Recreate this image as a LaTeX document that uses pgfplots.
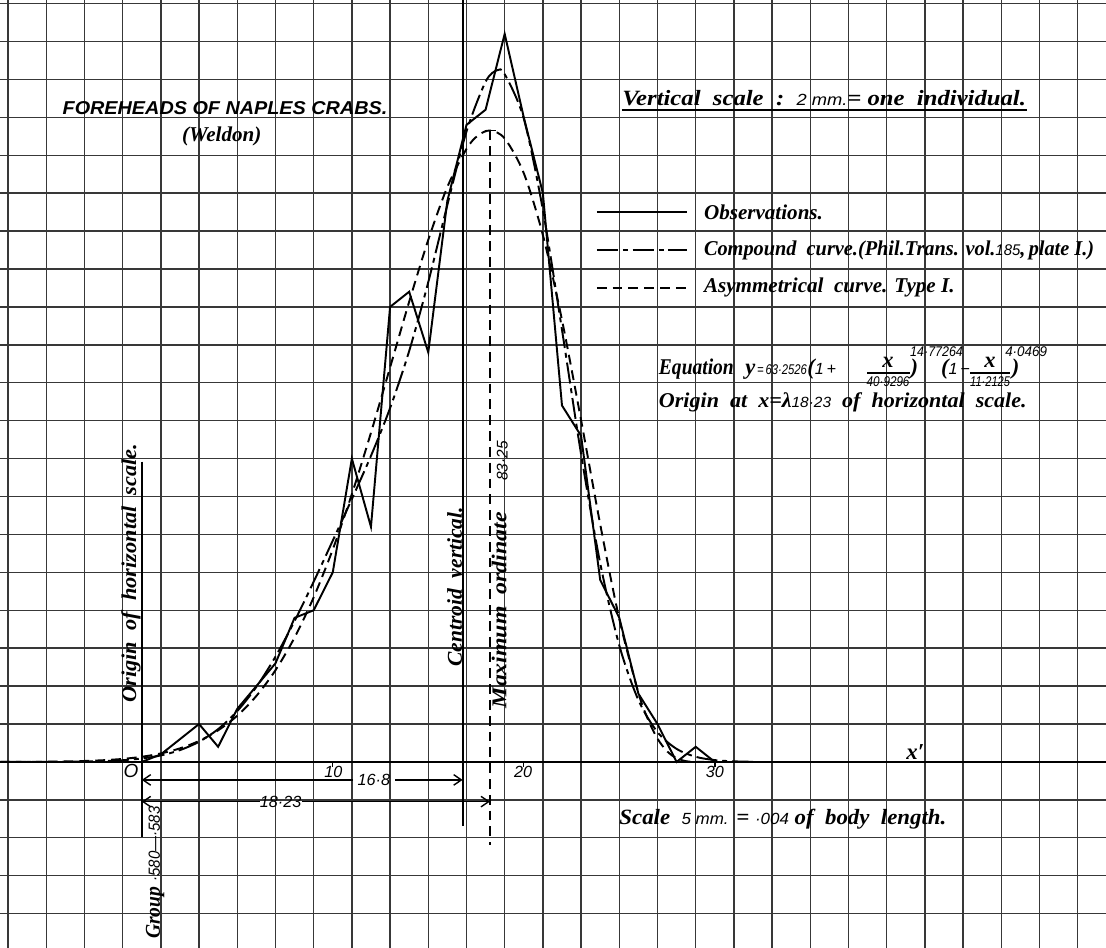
\documentclass[border=0pt]{standalone}
\usepackage{fontspec}
\setmainfont{Liberation Serif}
\newfontfamily\sansf{Liberation Sans}
\usepackage{graphicx}
\usepackage{pgfplots}
\pgfplotsset{compat=1.18}
\usepackage{pgfplotstable}
\usetikzlibrary{arrows.meta}

\newcommand\fs[1]{\fontsize{#1}{#1}\selectfont}
\newcommand\bi{\bfseries\itshape}
\newcommand\si[1][4.4]{\sansf\itshape\mdseries\fontsize{#1}{#1}\selectfont}
\newcommand\fitw[2]{\resizebox{#1}{\height}{#2}}

\tikzset{
  obsline/.style={black,line width=0.55pt},
  cmpline/.style={black,line width=0.55pt,dash pattern=on 6pt off 1.4pt on 1.4pt off 1.4pt},
  asyline/.style={black,line width=0.55pt,dash pattern=on 2.8pt off 1.7pt},
  barb/.style={line width=0.4pt,-{Straight Barb[length=2.2pt,width=3pt]}},
  lab/.style={inner sep=0}
}

\begin{document}
% Weldon's 1000 Naples crabs, groups of .004 (group 1 = .580-.583)
\pgfplotstableread{
x y
0 0
1 1
2 3
3 5
4 2
5 7
6 10
7 13
8 19
9 20
10 25
11 40
12 31
13 60
14 62
15 54
16 74
17 84
18 86
19 96
20 85
21 75
22 47
23 43
24 24
25 19
26 9
27 5
28 0
29 2
30 0
}\obs

% asymmetrical curve, type I
\pgfplotstableread{
x y
-7.4 0.01
-6 0.02
-5 0.03
-4 0.07
-3 0.13
-2 0.23
-1 0.40
0 0.68
1 1.12
2 1.79
3 2.77
4 4.17
5 6.10
6 8.70
7 12.09
8 16.40
9 21.70
10 28.02
11 35.31
12 43.41
13 52.01
14 60.68
15 68.84
16 75.82
17 80.83
17.6 82.6
18.23 83.25
19 82.21
20 77.63
21 69.47
22 58.27
23 45.06
24 31.34
25 18.85
26 9.12
26.5 5.62
27 3.07
27.5 1.41
28 0.49
28.5 0.10
29 0.01
29.44 0
}\typeone

% compound curve (two normal components)
\pgfplotstableread{
x y
-7.4 0
-5 0.01
-4 0.02
-3 0.05
-2 0.11
-1 0.23
0 0.46
1 0.86
2 1.56
3 2.66
4 4.33
5 6.71
6 9.89
7 13.88
8 18.58
9 23.76
10 29.18
11 34.67
12 40.36
13 46.66
14 54.18
15 63.27
16 73.46
17 83.12
18 89.69
18.6 91.2
19 90.69
20 84.83
21 72.79
22 56.98
23 40.57
24 26.21
25 15.36
26 8.16
27 3.93
28 1.72
29 0.68
30 0.24
31 0.08
32 0.02
}\compound

\begin{tikzpicture}
\begin{axis}[
  width=11.06cm,height=9.48cm,scale only axis,
  xmin=-7.42,xmax=50.48,ymin=-24.53,ymax=100.47,
  xtick={-7,-5,...,49},ytick={-20,-15,...,100},
  xticklabels={},yticklabels={},
  major tick length=0pt,
  axis line style={draw=none},
  grid=major,
  major grid style={line width=0.4pt,black!78},
  clip=true]

% x axis
\draw[line width=0.6pt] (axis cs:-7.42,0) -- (axis cs:50.48,0);
\draw[line width=0.4pt] (axis cs:10,0) -- (axis cs:10,-0.6);
\draw[line width=0.4pt] (axis cs:20,0) -- (axis cs:20,-0.6);
\draw[line width=0.4pt] (axis cs:30,0) -- (axis cs:30,-0.6);

\addplot[obsline,mark=none] table {\obs};
\addplot[cmpline,mark=none,smooth] table {\compound};
\addplot[asyline,mark=none,smooth] table {\typeone};

% verticals
\draw[line width=0.5pt] (axis cs:0,39.6) -- (axis cs:0,-9.9);
\draw[line width=0.5pt] (axis cs:16.8,100.47) -- (axis cs:16.8,-8.5);
\draw[asyline] (axis cs:18.23,83.25) -- (axis cs:18.23,-11);
\draw[line width=0.5pt] (axis cs:17.95,83.25) -- (axis cs:18.55,83.25);

% distances
\draw[barb] (axis cs:11.07,-2.37) -- (axis cs:0,-2.37);
\draw[barb] (axis cs:13.26,-2.37) -- (axis cs:16.8,-2.37);
\draw[barb] (axis cs:6.19,-5.23) -- (axis cs:0,-5.23);
\draw[barb] (axis cs:8.38,-5.23) -- (axis cs:18.23,-5.23);
\node[lab] at (axis cs:12.15,-2.37) {\si[4.6]16·8};
\node[lab] at (axis cs:7.27,-5.23) {\si[4.6]18·23};

% axis numbers
\node[lab] at (axis cs:-0.56,-1.25) {\si[5.4]O};
\node[lab] at (axis cs:10.03,-1.3) {\si[4.6]10};
\node[lab] at (axis cs:19.97,-1.3) {\si[4.6]20};
\node[lab] at (axis cs:30.0,-1.3) {\si[4.6]30};
\node[lab] at (axis cs:40.5,1.3) {\bi\fs{6.5}x′};

% titles
\node[lab] at (axis cs:4.36,86.2)
  {\fitw{92.4pt}{\sansf\bfseries\itshape\fs{5.3}FOREHEADS OF NAPLES CRABS.}};
\node[lab] at (axis cs:4.19,82.5) {\bi\fs{6}(Weldon)};
\node[lab,anchor=base west] at (axis cs:25.13,86.55)
  {\fitw{114.8pt}{\bi\fs{6.2}Vertical\ \ scale\ \ :\ \ {\si[4.6]2 mm.}= one\ \ individual.}};
\draw[line width=0.45pt] (axis cs:25.13,85.95) -- (axis cs:46.34,85.95);

% legend
\draw[obsline] (axis cs:23.82,72.5) -- (axis cs:28.53,72.5);
\draw[cmpline] (axis cs:23.82,67.5) -- (axis cs:28.53,67.5);
\draw[asyline] (axis cs:23.82,62.5) -- (axis cs:28.53,62.5);
\node[lab,anchor=west] at (axis cs:29.4,72.5) {\bi\fs{6}Observations.};
\node[lab,anchor=west] at (axis cs:29.4,67.5)
  {\fitw{111pt}{\bi\fs{6}Compound\ \ curve.(Phil.Trans. vol.{\si[4.4]185},\,plate I.)}};
\node[lab,anchor=west] at (axis cs:29.4,62.5) {\bi\fs{6}Asymmetrical\ \ curve. Type I.};

% equation, set piece by piece
\node[lab,anchor=base west] at (axis cs:27.04,51.03) {\fitw{21.3pt}{\bi\fs{6.4}Equation}};
\node[lab,anchor=base] at (axis cs:31.86,51.03) {\bi\fs{6.4}y};
\node[lab,anchor=base] at (axis cs:33.52,51.03) {\fitw{14.2pt}{\si[4]=\,63·2526}};
\node[lab,anchor=base] at (axis cs:35.6,51.03) {{\bi\fs{6.4}(}{\si[4.6]1\,+}};
\node[lab] at (axis cs:39.07,52.7) {\bi\fs{6.4}x};
\draw[line width=0.4pt] (axis cs:37.97,51.3) -- (axis cs:40.23,51.3);
\node[lab] at (axis cs:39.07,50.2) {\fitw{12.2pt}{\si[4]40·9296}};
\node[lab,anchor=base] at (axis cs:40.45,51.03) {\bi\fs{6.4})};
\node[lab] at (axis cs:41.61,54.06) {\fitw{15pt}{\si[4]14·77264}};
\node[lab,anchor=base] at (axis cs:42.6,51.03) {{\bi\fs{6.4}(}{\si[4.6]1\,−}};
\node[lab] at (axis cs:44.41,52.7) {\bi\fs{6.4}x};
\draw[line width=0.4pt] (axis cs:43.37,51.3) -- (axis cs:45.46,51.3);
\node[lab] at (axis cs:44.41,50.2) {\fitw{11.3pt}{\si[4]11·2125}};
\node[lab,anchor=base] at (axis cs:45.75,51.03) {\bi\fs{6.4})};
\node[lab] at (axis cs:46.3,54.06) {\fitw{11.9pt}{\si[4]4·0469}};

\node[lab,anchor=base west] at (axis cs:27.04,46.8)
  {\fitw{104.6pt}{\bi\fs{6}Origin\ \ at\ \ x=λ{\si[4.2]18·23}\ \ of\ \ horizontal\ \ scale.}};
\node[lab,anchor=west] at (axis cs:24.97,-7.6)
  {\fitw{93pt}{\bi\fs{6.2}Scale\ \ {\si[4.6]5 mm.} = {\si[4.6]·004} of\ \ body\ \ length.}};

% rotated labels
\node[lab,rotate=90] at (axis cs:-0.56,24.9)
  {\fitw{73.7pt}{\bi\fs{6}Origin\ \ of\ \ horizontal\ \ scale.}};
\node[lab,rotate=90] at (axis cs:16.38,23.1)
  {\fitw{45.4pt}{\bi\fs{6}Centroid\ \ vertical.}};
\node[lab,rotate=90] at (axis cs:18.71,20.0)
  {\fitw{55.7pt}{\bi\fs{6}Maximum\ \ ordinate}};
\node[lab,rotate=90] at (axis cs:18.87,39.7) {\si[4.4]83·25};
\node[lab,rotate=90] at (axis cs:0.7,-14.6)
  {\fitw{37.7pt}{\bi\fs{6}Group {\si[4.6]·580—·583}}};

\coordinate (sw) at (rel axis cs:0,0);
\coordinate (ne) at (rel axis cs:1,1);
\end{axis}
\pgfresetboundingbox
\path (sw) rectangle (ne);
\end{tikzpicture}
\end{document}
